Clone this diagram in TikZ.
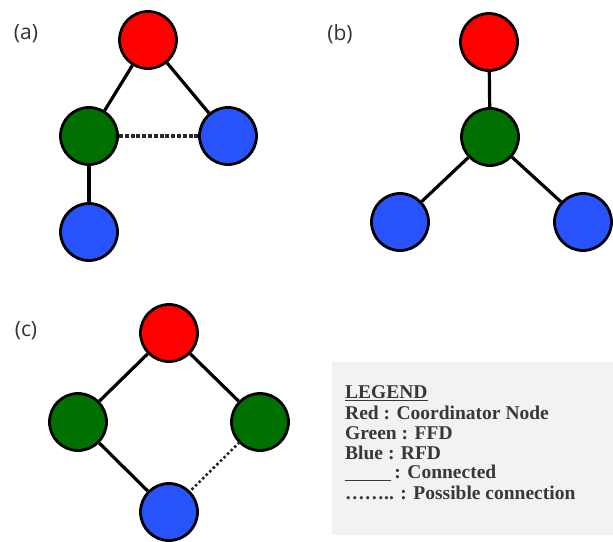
\documentclass[tikz,border=0pt]{standalone}
\usepackage{fontspec}
\setmainfont{Liberation Serif}
\newfontfamily\labelfont{Open Sans}
\begin{document}
\begin{tikzpicture}[x=1pt,y=-1pt,
  dev/.style={circle,draw=black,line width=2.8pt,minimum size=57pt,inner sep=0pt},
  coord/.style={dev,fill=red!100},
  ffd/.style={dev,fill=ffdgreen},
  rfd/.style={dev,fill=rfdblue},
  link/.style={line width=3.2pt,draw=black},
  maybe/.style={line width=3.2pt,draw=black!85,dash pattern=on 4pt off 1.8pt},
  dotlink/.style={line width=3.6pt,draw=black!85,line cap=round,dash pattern=on 0pt off 5pt},
  tag/.style={font=\labelfont\fontsize{21}{24}\selectfont,text=black!80},
  legline/.style={anchor=west,font=\bfseries\fontsize{19.5}{21}\selectfont,text=black!78,inner sep=0pt}]
\definecolor{ffdgreen}{RGB}{0,112,0}
\definecolor{rfdblue}{RGB}{40,82,250}
\useasboundingbox (0,0) rectangle (613,541);
\fill[white] (0,0) rectangle (613,541);

% (a) coordinator with one FFD and two RFDs
\node[tag] (ta) at (26,34) {(a)};
\node[coord] (a1) at (148,40) {};
\node[ffd] (a2) at (89,136) {};
\node[rfd] (a3) at (228,136) {};
\node[rfd] (a4) at (89,232) {};
\draw[link] (a1) -- (a2);
\draw[link] (a1) -- (a3);
\draw[link] (a2) -- (a4);
\draw[maybe] (a2) -- (a3);

% (b) star through one FFD
\node[tag] (tb) at (340,34) {(b)};
\node[coord] (b1) at (489,42) {};
\node[ffd] (b2) at (490,137) {};
\node[rfd] (b3) at (400,222) {};
\node[rfd] (b4) at (583,222) {};
\draw[link] (b1) -- (b2);
\draw[link] (b2) -- (b3);
\draw[link] (b2) -- (b4);

% (c) two FFDs under the coordinator
\node[tag] (tc) at (26,331) {(c)};
\node[coord] (c1) at (169,333) {};
\node[ffd] (c2) at (78,422) {};
\node[ffd] (c3) at (260,422) {};
\node[rfd] (c4) at (169,512) {};
\draw[link] (c1) -- (c2);
\draw[link] (c1) -- (c3);
\draw[link] (c2) -- (c4);
\draw[dotlink] (c3) -- (c4);

% legend panel
\fill[black!5] (332,362) rectangle (613,535);
\node[legline] (l0) at (345,393) {\underline{LEGEND}};
\node[legline] (l1) at (345,413) {Red : Coordinator Node};
\node[legline] (l2) at (345,433) {Green : FFD};
\node[legline] (l3) at (345,453) {Blue : RFD};
\node[legline] (l4) at (345,473) {\underline{\hspace{46pt}}\,: Connected};
\node[legline] (l5) at (345,493) {…….. : Possible connection};
\end{tikzpicture}
\end{document}
